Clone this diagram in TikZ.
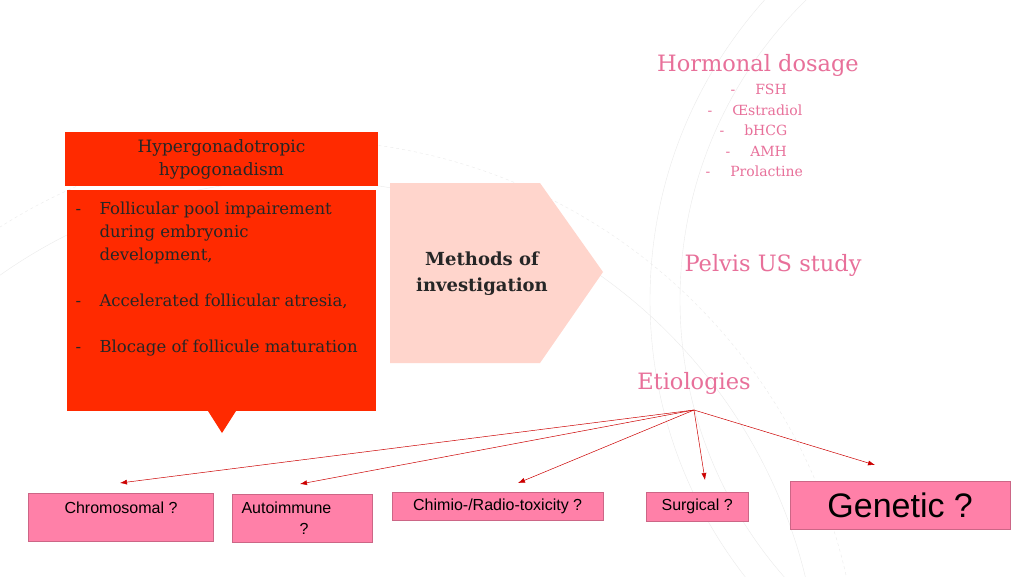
\documentclass[tikz,border=0pt]{standalone}
\usepackage{fontspec}
\usetikzlibrary{arrows.meta}
\setmainfont{DejaVu Serif}
\newfontfamily\arialf{Liberation Sans}
\begin{document}
\begin{tikzpicture}[x=1pt,y=-1pt,
  pinktxt/.style={text=pinkt, font=\fontsize{22.5}{26}\selectfont},
  lst/.style={text=pinkt, font=\fontsize{14}{16}\selectfont},
  ebox/.style={fill=pinkb, draw=pinkb!80!black, line width=0.3pt, font=\arialf\fontsize{16}{20}\selectfont, text=black},
  conn/.style={draw=red!80!black, line width=0.5pt, -{Latex[length=7pt,width=5pt]}},
  itm/.style={anchor=base west, font=\fontsize{16.5}{23}\selectfont, align=left, text=black!85}]
\definecolor{pinkt}{HTML}{E8709A}
\definecolor{pinkb}{HTML}{FF80A8}
\definecolor{redb}{HTML}{FF2A00}
\definecolor{peach}{HTML}{FFD5CC}
\useasboundingbox (0,0) rectangle (1024,576);
\fill[white] (0,0) rectangle (1024,576);
\begin{scope}[draw=black!8, line width=0.4pt]
\draw (1100,300) circle (420);
\draw (1100,300) circle (450);
\draw (300,700) circle (520);
\draw[dashed] (300,700) circle (560);
\end{scope}
% left boxes
\node[fill=redb, minimum width=313, minimum height=54, inner sep=0, align=center, font=\fontsize{17}{23}\selectfont, text=black!85] (hdr) at (221.5,159) {Hypergonadotropic\\hypogonadism};
\fill[redb] (67,190) rectangle (376,411);
\fill[redb] (208,411) -- (236,411) -- (222,433) -- cycle;
\node[itm] (d1) at (72,214) {-};
\node[itm] (i1) at (96,214) {Follicular pool impairement};
\node[itm] (i1b) at (96,237) {during embryonic};
\node[itm] (i1c) at (96,260) {development,};
\node[itm] (d2) at (72,306) {-};
\node[itm] (i2) at (96,306) {Accelerated follicular atresia,};
\node[itm] (d3) at (72,352) {-};
\node[itm] (i3) at (96,352) {Blocage of follicule maturation};
% arrow
\fill[peach] (390,183) -- (540,183) -- (603,272) -- (540,363) -- (390,363) -- cycle;
\node[font=\bfseries\fontsize{18}{26}\selectfont, align=center, text=black!85] (meth) at (482,274) {Methods of\\investigation};
% right texts
\node[pinktxt] (horm) at (758,65) {Hormonal dosage};
\node[lst, anchor=west] at (727,89) {-\hspace{20pt}FSH};
\node[lst, anchor=west] at (704,110) {-\hspace{20pt}Œstradiol};
\node[lst, anchor=west] at (716,130) {-\hspace{20pt}bHCG};
\node[lst, anchor=west] at (722,151) {-\hspace{20pt}AMH};
\node[lst, anchor=west] at (702,171) {-\hspace{20pt}Prolactine};
\node[pinktxt] (pelv) at (773,265) {Pelvis US study};
\node[pinktxt] (etio) at (694,383) {Etiologies};
\coordinate (src) at (694,410);
% bottom boxes
\node[ebox, minimum width=185, minimum height=48, anchor=north west, inner sep=0] (b1) at (28,493) {};
\node at (121,508) {\arialf\fontsize{16}{20}\selectfont Chromosomal ?};
\node[ebox, minimum width=140, minimum height=48, anchor=north west, inner sep=0] (b2) at (232,494) {};
\node[anchor=west, font=\arialf\fontsize{16}{20}\selectfont] at (238,508) {Autoimmune};
\node[font=\arialf\fontsize{16}{20}\selectfont] at (304,529) {?};
\node[ebox, minimum width=211, minimum height=28, anchor=north west, inner sep=0] (b3) at (392,492) {Chimio-/Radio-toxicity ?};
\node[ebox, minimum width=102, minimum height=29, anchor=north west, inner sep=0] (b4) at (646,492) {Surgical ?};
\node[ebox, minimum width=220, minimum height=48, anchor=north west, inner sep=0, font=\arialf\fontsize{34}{38}\selectfont] (b5) at (790,481) {Genetic ?};
\coordinate (t1) at (120,483);
\coordinate (t2) at (300,484);
\coordinate (t3) at (518,483);
\coordinate (t4) at (705,480);
\coordinate (t5) at (875,465);
\foreach \t in {t1,t2,t3,t4,t5} \draw[conn] (src) -- (\t);
\end{tikzpicture}
\end{document}
